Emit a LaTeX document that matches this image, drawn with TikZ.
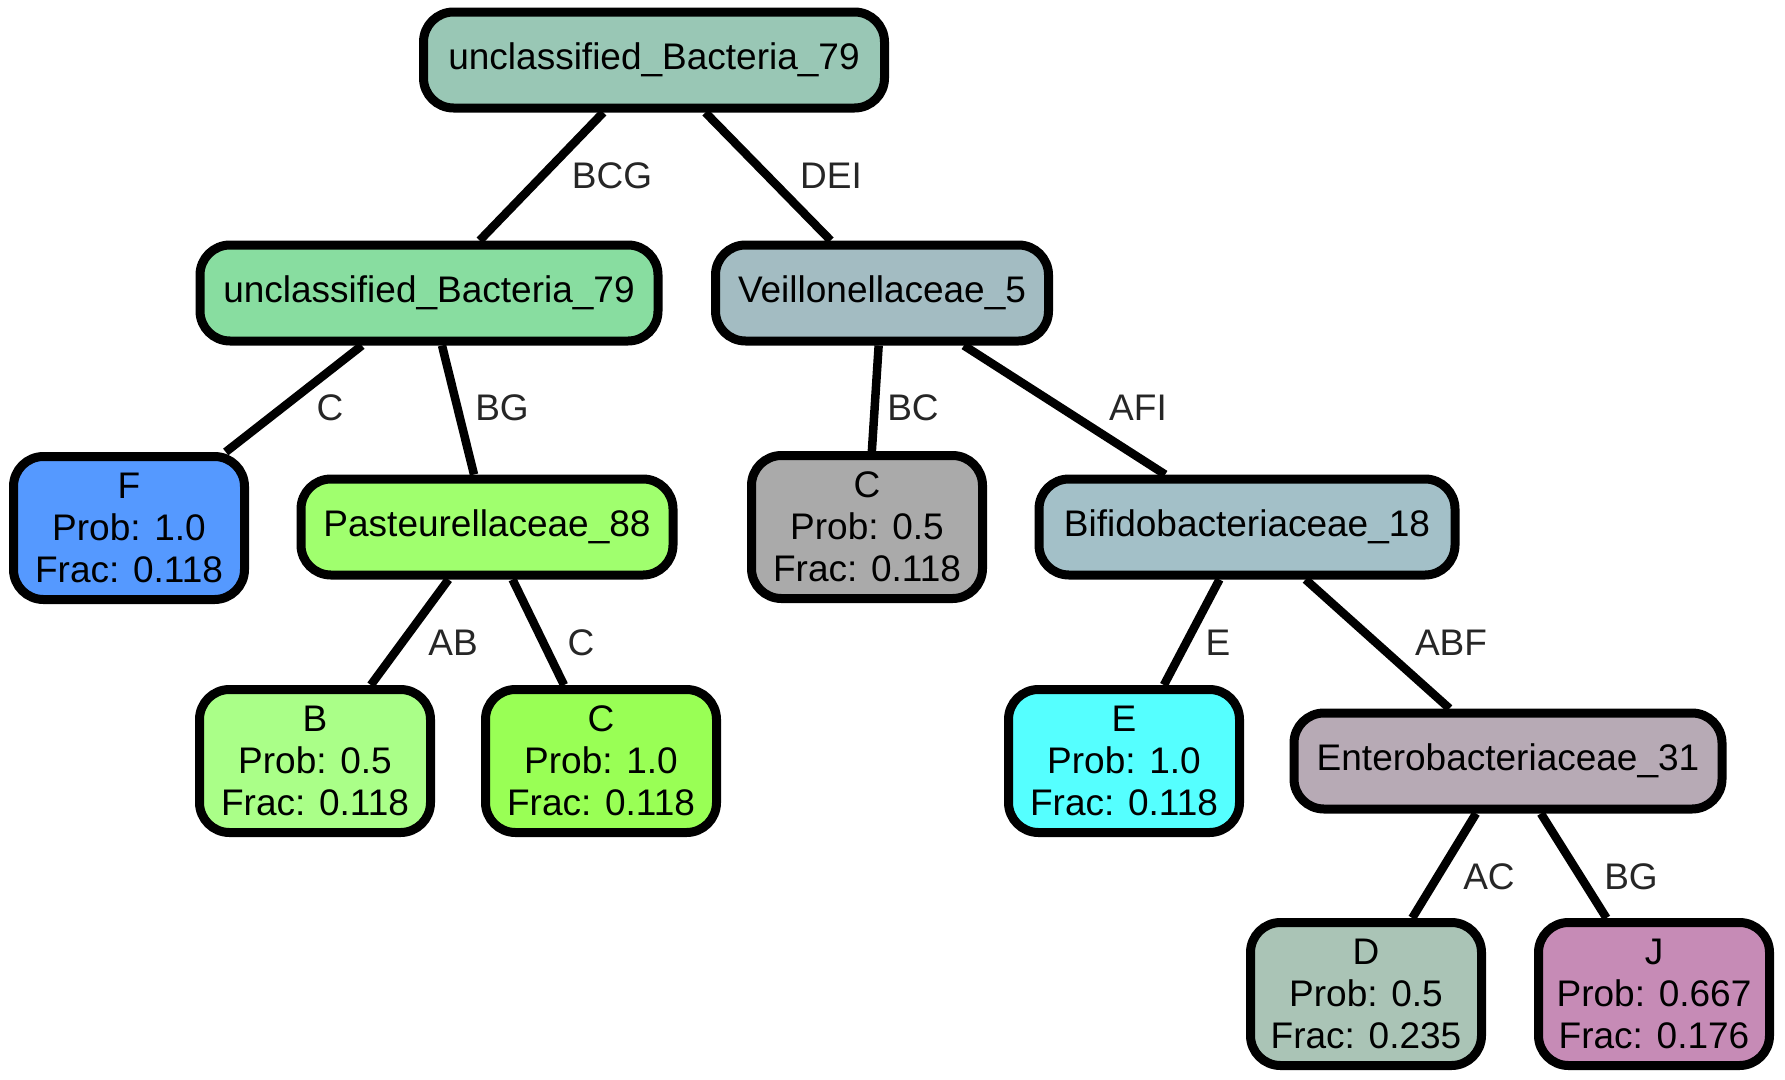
\documentclass[tikz,border=0pt]{standalone}
\usepackage{fontspec}
\setmainfont{Liberation Sans}
\definecolor{cRoot}{RGB}{153,199,181}
\definecolor{cL1}{RGB}{136,221,160}
\definecolor{cVei}{RGB}{163,188,194}
\definecolor{cF}{RGB}{85,153,255}
\definecolor{cPas}{RGB}{160,255,110}
\definecolor{cGray}{RGB}{170,170,170}
\definecolor{cBif}{RGB}{163,192,200}
\definecolor{cB}{RGB}{170,255,136}
\definecolor{cCg}{RGB}{153,255,85}
\definecolor{cE}{RGB}{85,255,255}
\definecolor{cEnt}{RGB}{183,170,181}
\definecolor{cD}{RGB}{170,196,182}
\definecolor{cJ}{RGB}{198,139,182}
\definecolor{labgray}{RGB}{38,38,38}
\begin{document}
\begin{tikzpicture}[x=1pt,y=-1pt,
  box/.style={draw=black, line width=9pt, rounded corners=30pt, inner sep=0pt,
    align=center, font=\fontsize{37}{42}\selectfont, text=black,
    minimum height=96pt},
  leaf/.style={box, minimum width=231pt, minimum height=143pt},
  edge/.style={line width=8.5pt, draw=black},
  elab/.style={font=\fontsize{37}{42}\selectfont, text=labgray, inner sep=0pt}]
\useasboundingbox (0,0) rectangle (1785,1079);
% nodes
\node[box, fill=cRoot, minimum width=461pt] (root) at (654,60) {unclassified\_Bacteria\_79};
\node[box, fill=cL1, minimum width=458pt] (l1) at (429,293) {unclassified\_Bacteria\_79};
\node[box, fill=cVei, minimum width=333pt] (vei) at (882,293) {Veillonellaceae\_5};
\node[leaf, fill=cF] (f) at (129,528) {F\\Prob: 1.0\\Frac: 0.118};
\node[box, fill=cPas, minimum width=372pt] (pas) at (487,527) {Pasteurellaceae\_88};
\node[leaf, fill=cGray] (cg) at (867,527) {C\\Prob: 0.5\\Frac: 0.118};
\node[box, fill=cBif, minimum width=416pt] (bif) at (1247,527) {Bifidobacteriaceae\_18};
\node[leaf, fill=cB] (b) at (315,761) {B\\Prob: 0.5\\Frac: 0.118};
\node[leaf, fill=cCg] (cgr) at (601,761) {C\\Prob: 1.0\\Frac: 0.118};
\node[leaf, fill=cE] (e) at (1124,761) {E\\Prob: 1.0\\Frac: 0.118};
\node[box, fill=cEnt, minimum width=428pt] (ent) at (1508,761) {Enterobacteriaceae\_31};
\node[leaf, fill=cD] (d) at (1366,994) {D\\Prob: 0.5\\Frac: 0.235};
\node[leaf, fill=cJ] (j) at (1654,994) {J\\Prob: 0.667\\Frac: 0.176};
% edges
\draw[edge] (root) -- (l1);
\draw[edge] (root) -- (vei);
\draw[edge] (l1) -- (f);
\draw[edge] (l1) -- (pas);
\draw[edge] (vei) -- (cg);
\draw[edge] (vei) -- (bif);
\draw[edge] (pas) -- (b);
\draw[edge] (pas) -- (cgr);
\draw[edge] (bif) -- (e);
\draw[edge] (bif) -- (ent);
\draw[edge] (ent) -- (d);
\draw[edge] (ent) -- (j);
% edge labels
\node[elab] (lBCG) at (612,176) {BCG};
\node[elab] (lDEI) at (831,176) {DEI};
\node[elab] (lC1) at (330,408) {C};
\node[elab] (lBG1) at (502,408) {BG};
\node[elab] (lBC) at (913,408) {BC};
\node[elab] (lAFI) at (1138,408) {AFI};
\node[elab] (lAB) at (453,643) {AB};
\node[elab] (lC2) at (581,643) {C};
\node[elab] (lE) at (1218,643) {E};
\node[elab] (lABF) at (1451,643) {ABF};
\node[elab] (lAC) at (1489,877) {AC};
\node[elab] (lBG2) at (1631,877) {BG};
\end{tikzpicture}
\end{document}
